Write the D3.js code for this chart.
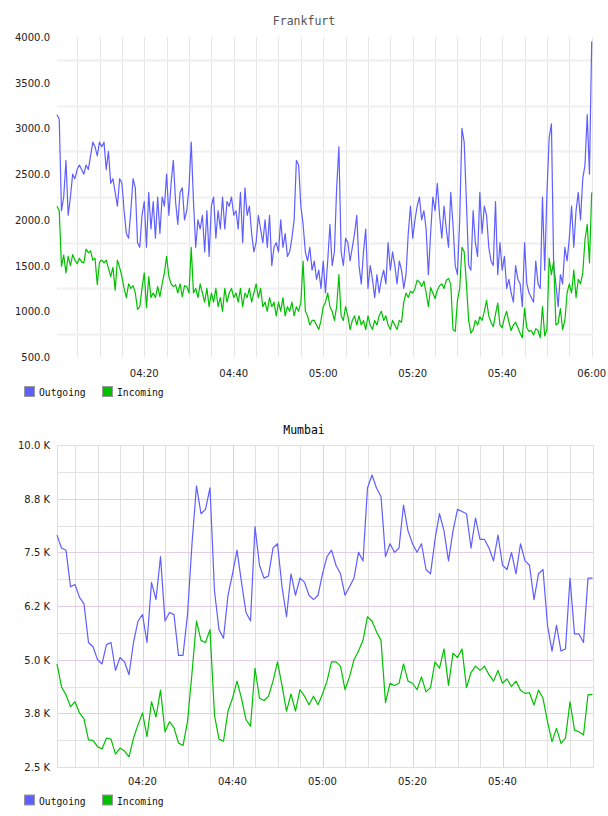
<!DOCTYPE html>
<html><head><meta charset="utf-8">
<script src="https://cdn.jsdelivr.net/npm/d3@7"></script>
<style>
html,body{margin:0;padding:0;background:#fff;}
svg{display:block;}
</style></head><body>
<svg id="chart" width="608" height="816"></svg>
<script>
// ---------------- DATA ----------------
const seriesNames = ["Outgoing", "Incoming"];

const frankTitle = "Frankfurt";
const frankStart = "04:00:30";
const frankStepSec = 30;
const frankOutgoing = [
3150,3100,2100,2250,2650,2050,2250,2500,2450,2550,
2600,2550,2500,2600,2550,2700,2850,2800,2700,2850,
2800,2850,2550,2750,2400,2450,2300,2150,2450,2400,
2100,1850,1800,2100,2450,2350,1750,1700,2050,2200,
1700,2300,1900,2200,1800,2250,1850,2250,2150,2500,
2050,2400,2650,2200,1950,2300,2350,2000,2100,2350,
2850,2200,1700,2000,1900,2050,1650,2100,1600,2150,
2250,1800,2100,1900,2250,1900,2200,2150,2250,2050,
2100,1900,2300,1750,2350,2050,2150,1850,1650,1750,
2050,1900,1750,2000,1700,2050,1500,1700,1750,1650,
2000,1700,1850,1600,1650,1800,2000,2650,2600,2150,
1950,1650,1550,1700,1450,1550,1350,1450,1250,1550,
1200,1550,1950,1500,1650,2350,2800,1650,1500,1800,
1750,1550,1700,1850,2050,1500,1300,1650,1900,1250,
1500,1350,1150,1400,1200,1350,1450,1300,1750,1450,
1650,1500,1300,1550,1450,1250,1400,1850,2150,1800,
2000,2150,2250,2000,2100,1900,1400,1850,2250,2100,
2400,2050,1800,2150,1900,1700,2300,1950,1500,1400,
2000,3000,2850,2200,1500,1450,2100,1750,1600,2300,
1850,2150,2050,1700,1550,1500,2200,1400,1750,1450,
1600,1250,1350,1200,1100,1500,1350,1300,1050,1750,
1300,1200,1150,1100,1550,1300,1250,2250,1450,2300,
2900,3050,1500,1300,1050,1400,1300,1700,1550,1800,
2150,1700,2100,2300,2000,2450,2600,3150,2500,3950
];
const frankIncoming = [
2150,2100,1490,1615,1420,1600,1500,1620,1560,1520,
1580,1540,1530,1680,1640,1660,1560,1580,1290,1540,
1560,1530,1560,1470,1380,1480,1230,1560,1480,1380,
1250,1150,1300,1250,1280,1200,1020,1050,1250,1420,
1040,1380,1150,1200,1150,1270,1160,1300,1420,1600,
1380,1300,1270,1290,1200,1300,1160,1280,1270,1200,
1700,1200,1250,1150,1300,1200,1100,1250,1050,1200,
1100,1250,1050,1150,1000,1250,1100,1200,1250,1150,
1200,1100,1250,1050,1200,1150,1250,1100,1200,1300,
1150,1250,1050,1100,1000,1150,1050,1100,950,1100,
1000,1150,950,1050,1000,1100,950,1050,1000,1100,
1550,1000,950,850,900,900,850,800,900,1050,
1100,1200,1050,1000,900,1050,1400,950,900,1050,
950,800,900,950,850,950,850,900,800,950,
850,800,900,850,950,1000,900,950,850,800,
900,850,800,900,880,1100,1200,1150,1220,1200,
1250,1340,1320,1270,1330,1200,1050,1260,1200,1140,
1230,1280,1300,1250,1340,1360,1300,800,780,1120,
1250,1700,1650,1300,900,760,800,900,850,940,
900,1000,1120,950,880,830,970,1090,850,820,
930,1000,880,790,850,880,820,760,710,1035,
820,780,790,740,810,790,710,1050,730,800,
1580,1400,1550,850,870,1030,800,900,1200,1300,
1200,1450,1150,1350,1300,1420,1780,1950,1530,2300
];
const frankYTicks = [4000, 3500, 3000, 2500, 2000, 1500, 1000, 500];
const frankYTickLabels = ["4000.0","3500.0","3000.0","2500.0","2000.0","1500.0","1000.0","500.0"];
const frankXTicks = ["04:20","04:40","05:00","05:20","05:40","06:00"];
const frankXDomain = ["04:00:30","06:00:00"];

const mumbaiTitle = "Mumbai";
const mumbaiStart = "04:01:00";
const mumbaiStepSec = 60;
const mumbaiOutgoing = [
7900,7600,7550,6700,6750,6450,6300,5400,5300,5000,
4900,5350,5400,4750,5050,4950,4650,5400,5900,6050,
5400,6800,6400,7400,5900,6100,6050,5100,5100,6050,
7700,9050,8400,8500,9000,6600,5700,5500,6500,7000,
7550,6800,6100,5900,8100,7200,6900,6950,7600,7700,
6700,6000,7000,6500,6900,6800,6500,6400,6500,7000,
7400,7550,7200,7000,6500,6700,6900,7500,7300,9000,
9300,9000,8800,7400,7700,7500,7600,8600,8000,7700,
7500,7700,7100,7000,7800,8400,8000,7300,8000,8500,
8450,8400,7600,8300,7800,7800,7600,7300,7900,7200,
7100,7500,7000,7700,7300,7200,6400,7000,7100,5800,
5200,5800,5200,5250,6900,5600,5600,5400,6900,6900
];
const mumbaiIncoming = [
4900,4370,4180,3905,4020,3760,3620,3130,3120,2975,
2920,3175,3150,2800,2940,2870,2735,3175,3480,3760,
3205,4020,3665,4290,3320,3555,3410,3060,3000,3555,
4690,5900,5450,5400,5700,3700,3150,3100,3800,4100,
4500,4100,3600,3450,4800,4100,4050,4150,4500,4950,
4400,3800,4200,3800,4300,4150,3950,4150,3950,4200,
4500,4950,4950,4850,4300,4600,5000,5200,5450,6000,
5900,5650,5450,4000,4450,4400,4450,4900,4500,4450,
4300,4600,4250,4350,4950,4800,5250,4400,5150,5050,
5250,4350,4700,4850,4750,4850,4650,4500,4750,4450,
4550,4370,4500,4290,4215,4230,3945,4290,4100,3555,
3090,3400,3050,3175,4020,3360,3320,3245,4180,4190
];
const mumbaiYTicks = [10000, 8750, 7500, 6250, 5000, 3750, 2500];
const mumbaiYTickLabels = ["10.0 K","8.8 K","7.5 K","6.2 K","5.0 K","3.8 K","2.5 K"];
const mumbaiXTicks = ["04:20","04:40","05:00","05:20","05:40"];
const mumbaiXDomain = ["04:01:00","06:00:00"];

// ---------------- HELPERS ----------------
function tm(s) {
  const p = s.split(":").map(Number);
  return new Date(Date.UTC(2000, 0, 1, p[0], p[1], p[2] || 0));
}
function series(startStr, stepSec, values) {
  const t0 = tm(startStr).getTime();
  return values.map((v, i) => ({ t: new Date(t0 + i * stepSec * 1000), v }));
}

const svg = d3.select("#chart");
const colors = { Outgoing: "#5f5fff", Incoming: "#00c000" };
const monoFont = "'DejaVu Sans Mono', monospace";
const sansFont = "'DejaVu Sans', sans-serif";

function drawPanel(cfg) {
  const g = svg.append("g");
  const x = d3.scaleUtc().domain(cfg.xDomain.map(tm)).range([cfg.left, cfg.xEnd]);
  const y = d3.scaleLinear().domain([cfg.yTicks[cfg.yTicks.length - 1], cfg.yTicks[0]]).range([cfg.bottom, cfg.top]);

  // title
  g.append("text").attr("x", cfg.titleX).attr("y", cfg.titleY)
    .attr("text-anchor", "middle").attr("font-family", monoFont).attr("font-size", 11.5)
    .attr("fill", cfg.titleColor).text(cfg.title);

  // minor vertical grid (every 5 min)
  const d0 = x.domain()[0], d1 = x.domain()[1];
  const fiveMin = d3.utcMinute.every(5).range(d0, new Date(d1.getTime() + 1));
  const majorSet = new Set(cfg.xTicks.map(s => tm(s).getTime()));
  g.selectAll(null).data(fiveMin.filter(d => !(cfg.majorV && majorSet.has(d.getTime()))))
    .enter().append("line")
    .attr("x1", d => Math.round(x(d)) + 0.5).attr("x2", d => Math.round(x(d)) + 0.5)
    .attr("y1", cfg.top).attr("y2", cfg.bottom)
    .attr("stroke", cfg.vGridColor).attr("stroke-width", 1);

  // horizontal minor grid (midpoints)
  const mids = d3.pairs(cfg.yTicks).map(p => (p[0] + p[1]) / 2);
  g.selectAll(null).data(mids).enter().append("line")
    .attr("x1", cfg.left).attr("x2", cfg.right)
    .attr("y1", d => Math.round(y(d)) + 0.5).attr("y2", d => Math.round(y(d)) + 0.5)
    .attr("stroke", cfg.hGridColor).attr("stroke-width", cfg.hGridWidth);

  if (cfg.majorV) {
    // major lines at labelled values
    g.selectAll(null).data(cfg.yTicks.slice(1, -1)).enter().append("line")
      .attr("x1", cfg.left).attr("x2", cfg.right)
      .attr("y1", d => Math.round(y(d)) + 0.5).attr("y2", d => Math.round(y(d)) + 0.5)
      .attr("stroke", cfg.majorColor).attr("stroke-width", 1);
    g.selectAll(null).data(cfg.xTicks.map(tm)).enter().append("line")
      .attr("x1", d => Math.round(x(d)) + 0.5).attr("x2", d => Math.round(x(d)) + 0.5)
      .attr("y1", cfg.top).attr("y2", cfg.bottom)
      .attr("stroke", cfg.majorColor).attr("stroke-width", 1);
    // frame
    g.append("rect").attr("x", cfg.left + 0.5).attr("y", cfg.top + 0.5)
      .attr("width", cfg.right - cfg.left - 1).attr("height", cfg.bottom - cfg.top)
      .attr("fill", "none").attr("stroke", cfg.frameColor).attr("stroke-width", 1);
  }

  // y labels
  g.selectAll(null).data(cfg.yTicks).enter().append("text")
    .attr("x", 50).attr("y", (d) => y(d) + 4)
    .attr("text-anchor", "end").attr("font-family", sansFont).attr("font-size", 10)
    .attr("fill", "#222").text((d, i) => cfg.yTickLabels[i]);

  // x labels
  g.selectAll(null).data(cfg.xTicks).enter().append("text")
    .attr("x", d => x(tm(d))).attr("y", cfg.xLabelY)
    .attr("text-anchor", "middle").attr("font-family", sansFont).attr("font-size", 10)
    .attr("fill", "#222").text(d => d);

  // lines
  const line = d3.line().x(d => x(d.t)).y(d => y(d.v));
  cfg.data.forEach(s => {
    g.append("path").datum(s.points).attr("d", line)
      .attr("fill", "none").attr("stroke", colors[s.name])
      .attr("stroke-width", 1.2).attr("stroke-linejoin", "round");
  });

  // legend
  const legX = [24, 102];
  seriesNames.forEach((name, i) => {
    g.append("rect").attr("x", legX[i] + 0.5).attr("y", cfg.legendY - 9.5)
      .attr("width", 10).attr("height", 10)
      .attr("fill", colors[name]).attr("stroke", "#999").attr("stroke-width", 1);
    g.append("text").attr("x", legX[i] + 15).attr("y", cfg.legendY)
      .attr("font-family", monoFont).attr("font-size", 9.7).attr("fill", "#111").text(name);
  });
}

drawPanel({
  title: frankTitle, titleX: 304, titleY: 25, titleColor: "#555",
  left: 57, right: 593, xEnd: 591.7, top: 37, bottom: 357,
  xDomain: frankXDomain, xTicks: frankXTicks,
  yTicks: frankYTicks, yTickLabels: frankYTickLabels,
  vGridColor: "#e6e6e6", hGridColor: "#f0f0f0", hGridWidth: 2, majorV: false,
  xLabelY: 377, legendY: 396,
  data: [
    { name: "Outgoing", points: series(frankStart, frankStepSec, frankOutgoing) },
    { name: "Incoming", points: series(frankStart, frankStepSec, frankIncoming) }
  ]
});

drawPanel({
  title: mumbaiTitle, titleX: 304, titleY: 433.5, titleColor: "#000",
  left: 57, right: 594, xEnd: 592.5, top: 445, bottom: 767,
  xDomain: mumbaiXDomain, xTicks: mumbaiXTicks,
  yTicks: mumbaiYTicks, yTickLabels: mumbaiYTickLabels,
  vGridColor: "#e2e2e2", hGridColor: "#e2e2e2", hGridWidth: 1, majorV: true,
  majorColor: "#e4cce4", frameColor: "#ead8ea",
  xLabelY: 784.5, legendY: 804.5,
  data: [
    { name: "Outgoing", points: series(mumbaiStart, mumbaiStepSec, mumbaiOutgoing) },
    { name: "Incoming", points: series(mumbaiStart, mumbaiStepSec, mumbaiIncoming) }
  ]
});
</script>
</body></html>
